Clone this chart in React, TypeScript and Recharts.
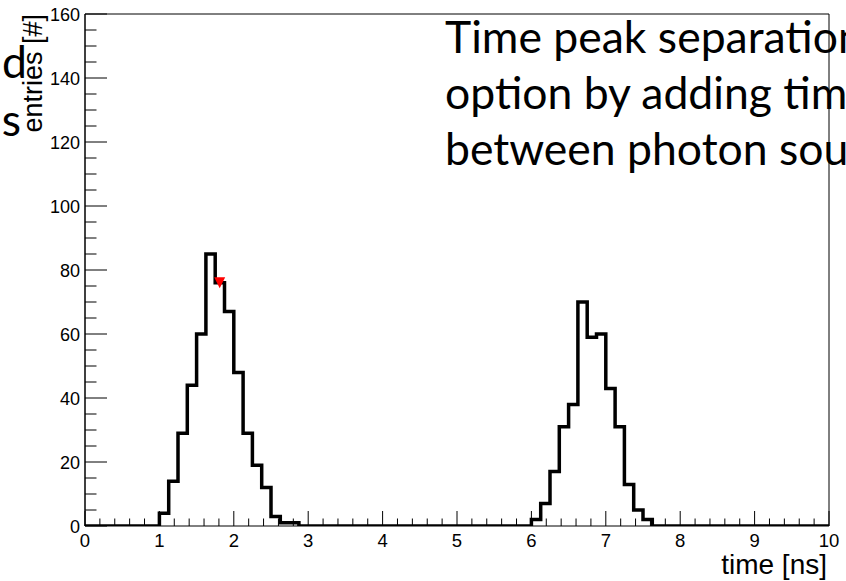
import React from 'react';
import { ComposedChart, Line, Scatter, XAxis, YAxis, ReferenceLine } from 'recharts';

// histogram: 80 bins of 0.125 ns between 0 and 10 ns
const BIN_WIDTH = 0.125;
const counts = [
  0, 0, 0, 0, 0, 0, 0, 0, // 0-1
  4, 14, 29, 44, 60, 85, 76, 67, // 1-2
  48, 29, 19, 12, 3, 1, 1, 0, // 2-3
  0, 0, 0, 0, 0, 0, 0, 0, // 3-4
  0, 0, 0, 0, 0, 0, 0, 0, // 4-5
  0, 0, 0, 0, 0, 0, 0, 0, // 5-6
  2, 7, 17, 31, 38, 70, 59, 60, // 6-7
  43, 31, 13, 5, 2, 0, 0, 0, // 7-8
  0, 0, 0, 0, 0, 0, 0, 0, // 8-9
  0, 0, 0, 0, 0, 0, 0, 0, // 9-10
];

// red marker
const markerX = [1.81];
const markerY = [76];

const xMajor = [0, 1, 2, 3, 4, 5, 6, 7, 8, 9, 10];
const yMajor = [0, 20, 40, 60, 80, 100, 120, 140, 160];

const xTicks: number[] = [];
for (let i = 0; i <= 50; i++) xTicks.push(+(i * 0.2).toFixed(2));
const yTicks: number[] = [];
for (let v = 0; v <= 160; v += 5) yTicks.push(v);

const histData = counts.map((c, i) => ({ x: i * BIN_WIDTH, y: c }));
histData.push({ x: counts.length * BIN_WIDTH, y: counts[counts.length - 1] });

const markerData = markerX.map((x, i) => ({ x, y: markerY[i] }));

const FONT = '"Liberation Sans", Arial, sans-serif';

const XTick = (props: any) => {
  const { x, payload } = props;
  const y = 526;
  const major = xMajor.some((m) => Math.abs(m - payload.value) < 1e-6);
  return (
    <g>
      <line x1={x} x2={x} y1={y} y2={y - (major ? 15 : 7.5)} stroke="#000" strokeWidth={1} />
      {major && (
        <text x={x} y={y + 21} textAnchor="middle" fontSize={18.5} fontFamily={FONT} fill="#000">
          {Math.round(payload.value)}
        </text>
      )}
    </g>
  );
};

const YTick = (props: any) => {
  const { y, payload } = props;
  const x = 85;
  const major = yMajor.includes(payload.value);
  return (
    <g>
      <line x1={x} x2={x + (major ? 22 : 11.5)} y1={y} y2={y} stroke="#000" strokeWidth={1} />
      {major && (
        <text x={x - 5} y={y + 6.5} textAnchor="end" fontSize={18} fontFamily={FONT} fill="#000">
          {payload.value}
        </text>
      )}
    </g>
  );
};

const TriangleDown = (props: any) => {
  const { cx, cy } = props;
  const s = 5.5;
  return <polygon points={`${cx - s},${cy - s} ${cx + s},${cy - s} ${cx},${cy + s}`} fill="#ff0000" />;
};

export default function App() {
  return (
    <div style={{ position: 'fixed', left: 0, top: 0, width: 846, height: 581, overflow: 'hidden', background: '#fff' }}>
      <ComposedChart
        width={846}
        height={581}
        data={histData}
        margin={{ top: 14, right: 17, bottom: 54, left: 84 }}
      >
        <XAxis
          type="number"
          dataKey="x"
          domain={[0, 10]}
          ticks={xTicks}
          interval={0}
          height={1}
          tickSize={0}
          tickMargin={0}
          tickLine={false}
          tick={(p: any) => <XTick {...p} />}
          axisLine={{ stroke: '#000', strokeWidth: 1 }}
          allowDataOverflow
        />
        <YAxis
          type="number"
          domain={[0, 160]}
          ticks={yTicks}
          interval={0}
          width={1}
          tickSize={0}
          tickMargin={0}
          tickLine={false}
          tick={(p: any) => <YTick {...p} />}
          axisLine={{ stroke: '#000', strokeWidth: 1.5 }}
          allowDataOverflow
        />
        <ReferenceLine y={160} stroke="#000" strokeWidth={1} />
        <ReferenceLine x={10} stroke="#000" strokeWidth={1} />
        <Line
          type="stepAfter"
          dataKey="y"
          stroke="#000"
          strokeWidth={3.5}
          dot={false}
          isAnimationActive={false}
        />
        <Scatter data={markerData} dataKey="y" shape={<TriangleDown />} isAnimationActive={false} />
      </ComposedChart>
      <svg
        width={846}
        height={581}
        style={{ position: 'absolute', left: 0, top: 0, pointerEvents: 'none' }}
      >
        <text x={827} y={574} textAnchor="end" fontSize={28} fontFamily={FONT} fill="#000">
          time [ns]
        </text>
        <text transform="translate(42,14) rotate(-90)" textAnchor="end" fontSize={27} fontFamily={FONT} fill="#000">
          entries [#]
        </text>
        <g fontFamily="Lato, sans-serif" fontSize={44.5} fill="#000">
          <text x={27} y={78} textAnchor="end">d</text>
          <text x={21} y={136} textAnchor="end">s</text>
          <text x={445} y={53}>Time peak separation</text>
          <text x={445} y={109}>option by adding tim</text>
          <text x={445} y={165}>between photon sou</text>
        </g>
      </svg>
    </div>
  );
}
